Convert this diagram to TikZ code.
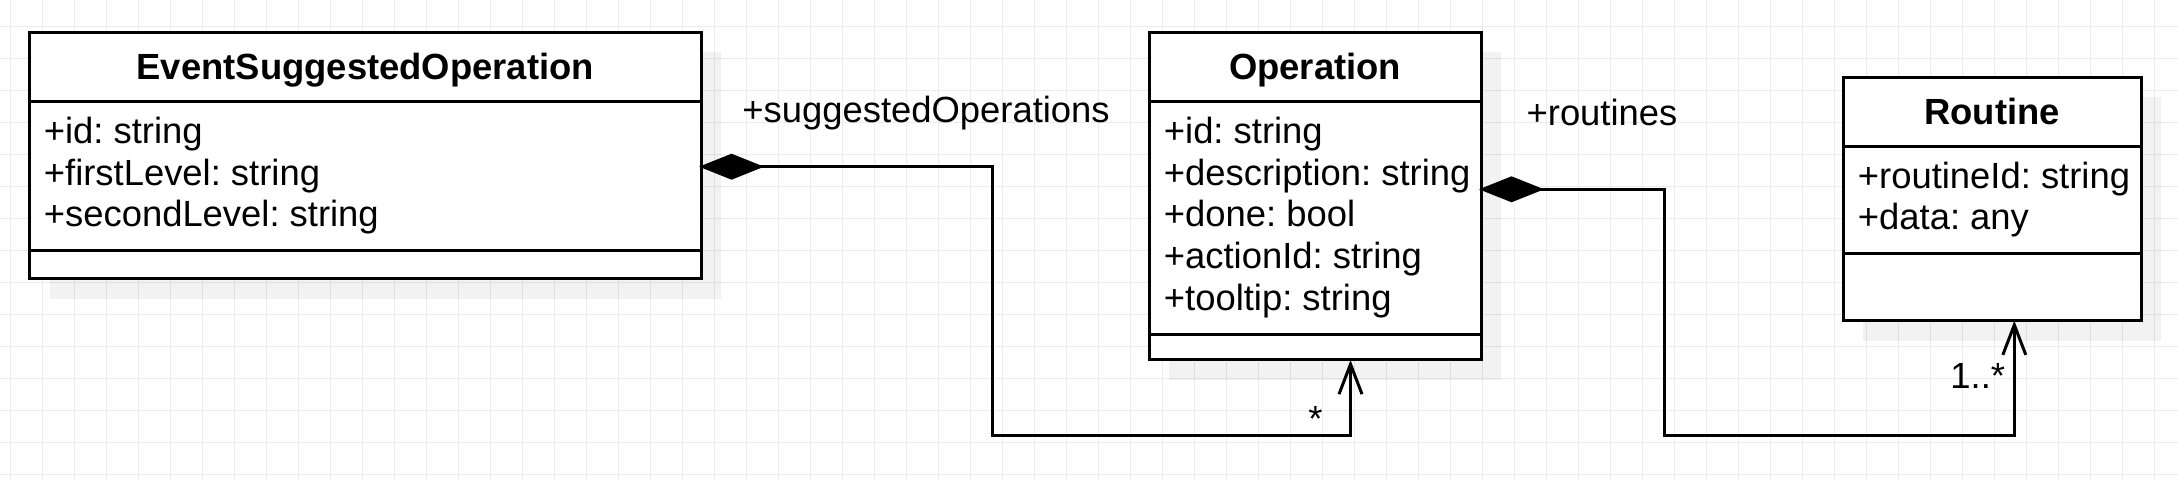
\documentclass[tikz,border=0pt]{standalone}
\usepackage{fontspec}
\setmainfont{Liberation Sans}
\usetikzlibrary{arrows.meta,calc}
\definecolor{gridc}{RGB}{236,236,236}
\frenchspacing
\begin{document}
\begin{tikzpicture}[x=0.5pt,y=-0.5pt,
  box/.style={draw=black, line width=1.5pt, fill=white, inner sep=0pt, outer sep=0pt, anchor=north west},
  hdr/.style={box, font=\fontsize{18.2pt}{21pt}\selectfont\bfseries, text height=12.9pt, text depth=0.5pt, minimum height=34.6pt},
  attr/.style={font=\fontsize{18.2pt}{21pt}\selectfont\frenchspacing, inner sep=0pt, anchor=base west},
  lbl/.style={attr},
  assoc/.style={line width=1.5pt, shorten <=-1pt, {Diamond[length=32.5pt,width=13pt]}-{Straight Barb[length=15pt,width=11.5pt]}},
  shade/.style={fill=black, fill opacity=0.05},
  gridline/.style={draw=gridc, line width=0.6pt}]

\fill[white] (0,0) rectangle (2178,480);
\useasboundingbox (0,0) rectangle (2178,480);
\foreach \k in {0,...,67} \draw[gridline] ({10.67+32*\k},0) -- ({10.67+32*\k},480);
\foreach \k in {0,...,14} \draw[gridline] (0,{26.67+32*\k}) -- (2178,{26.67+32*\k});

% shadows
\fill[shade] (49.5,52.5) rectangle (721,298.7);
\fill[shade] (1169,52.5) rectangle (1501,380);
\fill[shade] (1863,97.3) rectangle (2161,340.7);

% EventSuggestedOperation
\node[hdr, minimum width=335.75pt] (esoH) at (29.5,32.5) {EventSuggestedOperation};
\node[box, minimum width=335.75pt, minimum height=74.4pt] (esoA) at (esoH.south west) {};
\node[box, minimum width=335.75pt, minimum height=14.1pt] (esoM) at (esoA.south west) {};
\node[attr] (esoA1) at (43.5,143.5) {+id: string};
\node[attr] (esoA2) at (43.5,185.2) {+firstLevel: string};
\node[attr] (esoA3) at (43.5,226.9) {+secondLevel: string};

% Operation
\node[hdr, minimum width=166pt] (opH) at (1149,32.5) {Operation};
\node[box, minimum width=166pt, minimum height=116.4pt] (opA) at (opH.south west) {};
\node[box, minimum width=166pt, minimum height=12.75pt] (opM) at (opA.south west) {};
\node[attr] (opA1) at (1163.5,143.5) {+id: string};
\node[attr] (opA2) at (1163.5,185.2) {+description: string};
\node[attr] (opA3) at (1163.5,226.9) {+done: bool};
\node[attr] (opA4) at (1163.5,268.6) {+actionId: string};
\node[attr] (opA5) at (1163.5,310.3) {+tooltip: string};

% Routine
\node[hdr, minimum width=149pt] (rtH) at (1843,77.3) {Routine};
\node[box, minimum width=149pt, minimum height=53.5pt] (rtA) at (rtH.south west) {};
\node[box, minimum width=149pt, minimum height=33.6pt] (rtM) at (rtA.south west) {};
\node[attr] (rtA1) at (1857.5,188.2) {+routineId: string};
\node[attr] (rtA2) at (1857.5,229.8) {+data: any};

% connectors
\coordinate (b1) at (992.7,166.7);
\coordinate (b2) at (1350.5,435.5);
\draw[assoc] (b1 -| esoA.east) -- (b1) |- (b2) -- (b2 |- opM.south);
\coordinate (b3) at (1664,189.3);
\coordinate (b4) at (2014.3,435.5);
\draw[assoc] (b3 -| opA.east) -- (b3) |- (b4) -- (b4 |- rtM.south);

% labels
\node[lbl] (l1) at (742,122.5) {+suggestedOperations};
\node[lbl] (m1) at (1308,431) {*};
\node[lbl] (l2) at (1526.2,125.5) {+routines};
\node[lbl] (m2) at (1950,389) {1..*};
\end{tikzpicture}
\end{document}
